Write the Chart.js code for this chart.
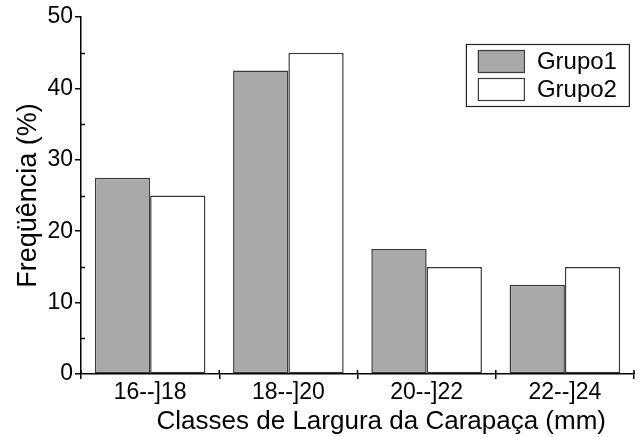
<!DOCTYPE html>
<html>
<head>
<meta charset="utf-8">
<script src="https://cdn.jsdelivr.net/npm/chart.js@4.4.1/dist/chart.umd.min.js"></script>
<style>
  html, body { margin: 0; padding: 0; background: #fff; }
  #grafico { display: block; }
</style>
</head>
<body>
<canvas id="grafico" width="644" height="437"></canvas>
<script>
// dados
const classes = ["16--]18", "18--]20", "20--]22", "22--]24"];
const grupo1 = [27.5, 42.5, 17.5, 12.5];
const grupo2 = [25, 45, 15, 15];
const yTicks = [0, 10, 20, 30, 40, 50];
const yMinor = [5, 15, 25, 35, 45];

const FONTE = "'Liberation Sans', Arial, Helvetica, sans-serif";

// ticks menores, título do eixo x e legenda com moldura
const extras = {
    id: "extras",
    afterDraw(chart) {
        const ctx = chart.ctx;
        const ca = chart.chartArea;
        const y = chart.scales.y;
        const x = chart.scales.x;
        ctx.save();
        ctx.strokeStyle = "#000";
        ctx.lineWidth = 1.5;

        // ticks menores no eixo y (para dentro)
        yMinor.forEach(v => {
            const py = Math.round(y.getPixelForValue(v)) + 0.5;
            ctx.beginPath();
            ctx.moveTo(ca.left, py);
            ctx.lineTo(ca.left + 4, py);
            ctx.stroke();
        });
        // ticks do eixo x também para dentro
        for (let i = 0; i <= classes.length; i++) {
            const px = x.getPixelForValue(i - 0.5);
            ctx.beginPath();
            ctx.moveTo(px, ca.bottom);
            ctx.lineTo(px, ca.bottom - 4);
            ctx.stroke();
        }

        // título do eixo x
        ctx.fillStyle = "#000";
        ctx.font = "26px " + FONTE;
        ctx.textAlign = "center";
        ctx.textBaseline = "middle";
        ctx.fillText("Classes de Largura da Carapaça (mm)", ca.left + (ca.right - ca.left) * 0.543, 422);

        // legenda
        const lx = ca.left + (ca.right - ca.left) * 0.696;
        const ly = ca.top + 27;
        const lw = 163, lh = 62;
        ctx.lineWidth = 1.2;
        ctx.strokeStyle = "#222";
        ctx.strokeRect(lx + 0.5, ly + 0.5, lw, lh);
        chart.data.datasets.forEach((ds, i) => {
            const sy = ly + 6 + i * 28;
            ctx.fillStyle = ds.backgroundColor;
            ctx.fillRect(lx + 12, sy, 46, 22);
            ctx.strokeStyle = ds.borderColor;
            ctx.strokeRect(lx + 12.5, sy + 0.5, 46, 22);
            ctx.fillStyle = "#000";
            ctx.font = "24px " + FONTE;
            ctx.textAlign = "left";
            ctx.fillText(ds.label, lx + 71, sy + 12);
        });
        ctx.restore();
    }
};

const ctx = document.getElementById("grafico").getContext("2d");

new Chart(ctx, {
    type: "bar",
    data: {
        labels: classes,
        datasets: [
            { label: "Grupo1", data: grupo1, backgroundColor: "#a8a9a8", borderColor: "#3a3a3a", borderWidth: 1.5, borderSkipped: false },
            { label: "Grupo2", data: grupo2, backgroundColor: "#ffffff", borderColor: "#3a3a3a", borderWidth: 1.5, borderSkipped: false }
        ]
    },
    options: {
        responsive: false,
        animation: false,
        layout: { padding: { top: 17, right: 10, left: 0, bottom: 0 } },
        categoryPercentage: 0.8,
        barPercentage: 1.0,
        plugins: {
            legend: { display: false },
            tooltip: { enabled: false }
        },
        scales: {
            x: {
                z: 1,
                offset: true,
                grid: { offset: true, drawOnChartArea: false, drawTicks: true, tickLength: 5, color: "#000", lineWidth: 1.5 },
                border: { color: "#000", width: 1.5 },
                ticks: { color: "#000", font: { family: FONTE, size: 23 }, padding: 0, maxRotation: 0 },
                afterFit: s => { s.height = 63; }
            },
            y: {
                z: 1,
                min: 0,
                max: 50,
                afterBuildTicks: s => { s.ticks = yTicks.map(v => ({ value: v })); },
                grid: { drawOnChartArea: false, drawTicks: true, tickLength: 6, color: "#000", lineWidth: 1.5 },
                border: { color: "#000", width: 1.5 },
                ticks: { color: "#000", font: { family: FONTE, size: 23 }, padding: 2 },
                title: { display: true, text: "Freqüência (%)", color: "#000", font: { family: FONTE, size: 27 }, padding: { top: 12, bottom: 0 } },
                afterFit: s => { s.width = 81; }
            }
        }
    },
    plugins: [extras]
});
</script>
</body>
</html>
